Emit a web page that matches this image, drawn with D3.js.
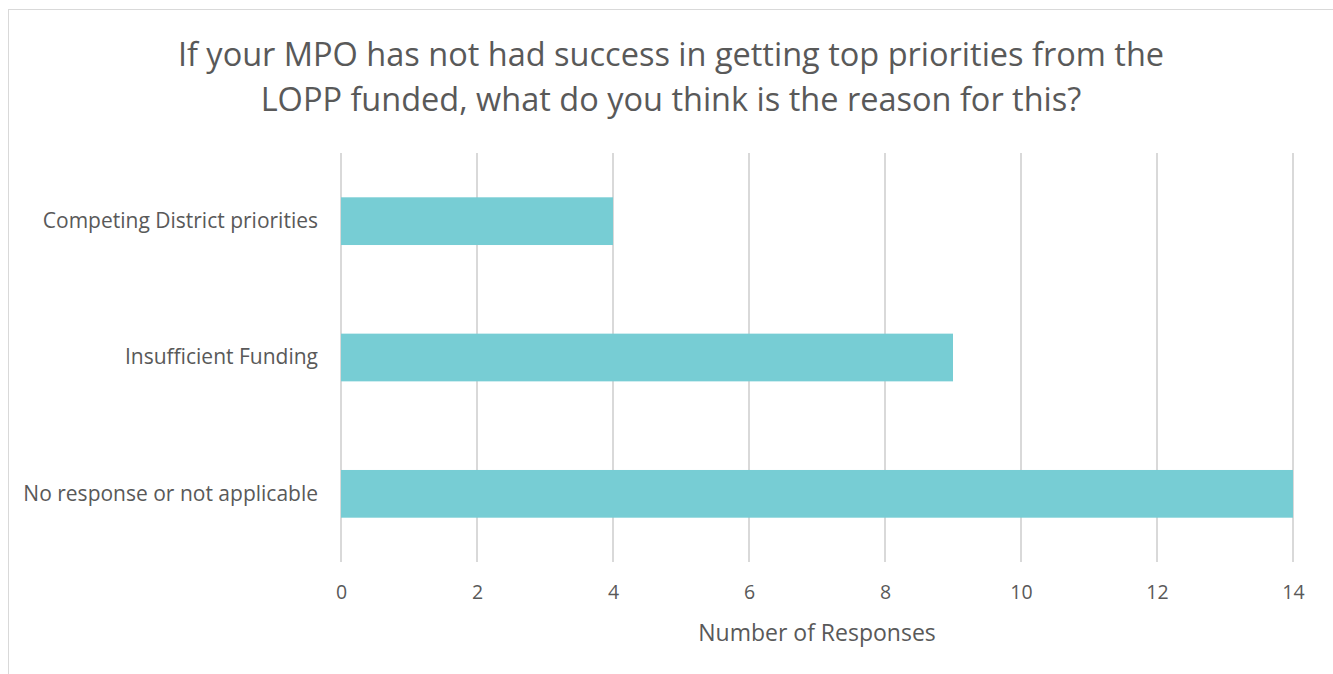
<!DOCTYPE html>
<html>
<head>
<meta charset="utf-8">
<script src="https://cdn.jsdelivr.net/npm/d3@7"></script>
<style>
  body { margin: 0; background: #fff; }
  text { font-family: "Open Sans", sans-serif; fill: #595959; }
</style>
</head>
<body>
<script>
var categories = ["Competing District priorities", "Insufficient Funding", "No response or not applicable"];
var values = [4, 9, 14];
var xTicks = [0, 2, 4, 6, 8, 10, 12, 14];
var titleLines = ["If your MPO has not had success in getting top priorities from the",
                  "LOPP funded, what do you think is the reason for this?"];
var xTitle = "Number of Responses";

var w = 1333;
var h = 674;
var plotLeft = 341, plotRight = 1293, plotTop = 153, plotBottom = 562;

var svg = d3.select("body")
    .append("svg")
    .attr("width", w)
    .attr("height", h);

// chart area border (runs off the right and bottom edges)
svg.append("rect")
    .attr("x", 8.5)
    .attr("y", 9.5)
    .attr("width", 1340)
    .attr("height", 700)
    .attr("fill", "none")
    .attr("stroke", "#d9d9d9")
    .attr("stroke-width", 1);

var x = d3.scaleLinear()
    .domain([0, 14])
    .range([plotLeft, plotRight]);

var y = d3.scaleBand()
    .domain(categories)
    .range([plotTop, plotBottom])
    .paddingInner(0.65)
    .paddingOuter(0.325);

svg.selectAll("line.grid")
    .data(xTicks)
    .enter()
    .append("line")
    .attr("class", "grid")
    .attr("x1", function(d) { return x(d); })
    .attr("x2", function(d) { return x(d); })
    .attr("y1", plotTop)
    .attr("y2", plotBottom)
    .attr("stroke", "#d9d9d9")
    .attr("stroke-width", 2);

svg.selectAll("rect.bar")
    .data(values)
    .enter()
    .append("rect")
    .attr("class", "bar")
    .attr("x", x(0))
    .attr("y", function(d, i) { return y(categories[i]); })
    .attr("width", function(d) { return x(d) - x(0); })
    .attr("height", y.bandwidth())
    .attr("fill", "#77cdd4");

var xAxis = svg.append("g")
    .attr("transform", "translate(0," + plotBottom + ")")
    .call(d3.axisBottom(x).tickValues(xTicks).tickSize(0).tickPadding(23));
xAxis.select(".domain").remove();
xAxis.selectAll("text")
    .style("font-size", "19.5px")
    .attr("fill", "#595959");

var yAxis = svg.append("g")
    .attr("transform", "translate(" + plotLeft + ",0)")
    .call(d3.axisLeft(y).tickSize(0).tickPadding(23));
yAxis.select(".domain").remove();
yAxis.selectAll("text")
    .style("font-size", "21px")
    .attr("fill", "#595959");

svg.selectAll("text.title")
    .data(titleLines)
    .enter()
    .append("text")
    .attr("class", "title")
    .text(function(d) { return d; })
    .attr("x", 671)
    .attr("y", function(d, i) { return 66 + i * 45; })
    .attr("text-anchor", "middle")
    .style("font-size", "32.5px");

svg.append("text")
    .text(xTitle)
    .attr("x", 817)
    .attr("y", 641)
    .attr("text-anchor", "middle")
    .style("font-size", "23px");
</script>
</body>
</html>
